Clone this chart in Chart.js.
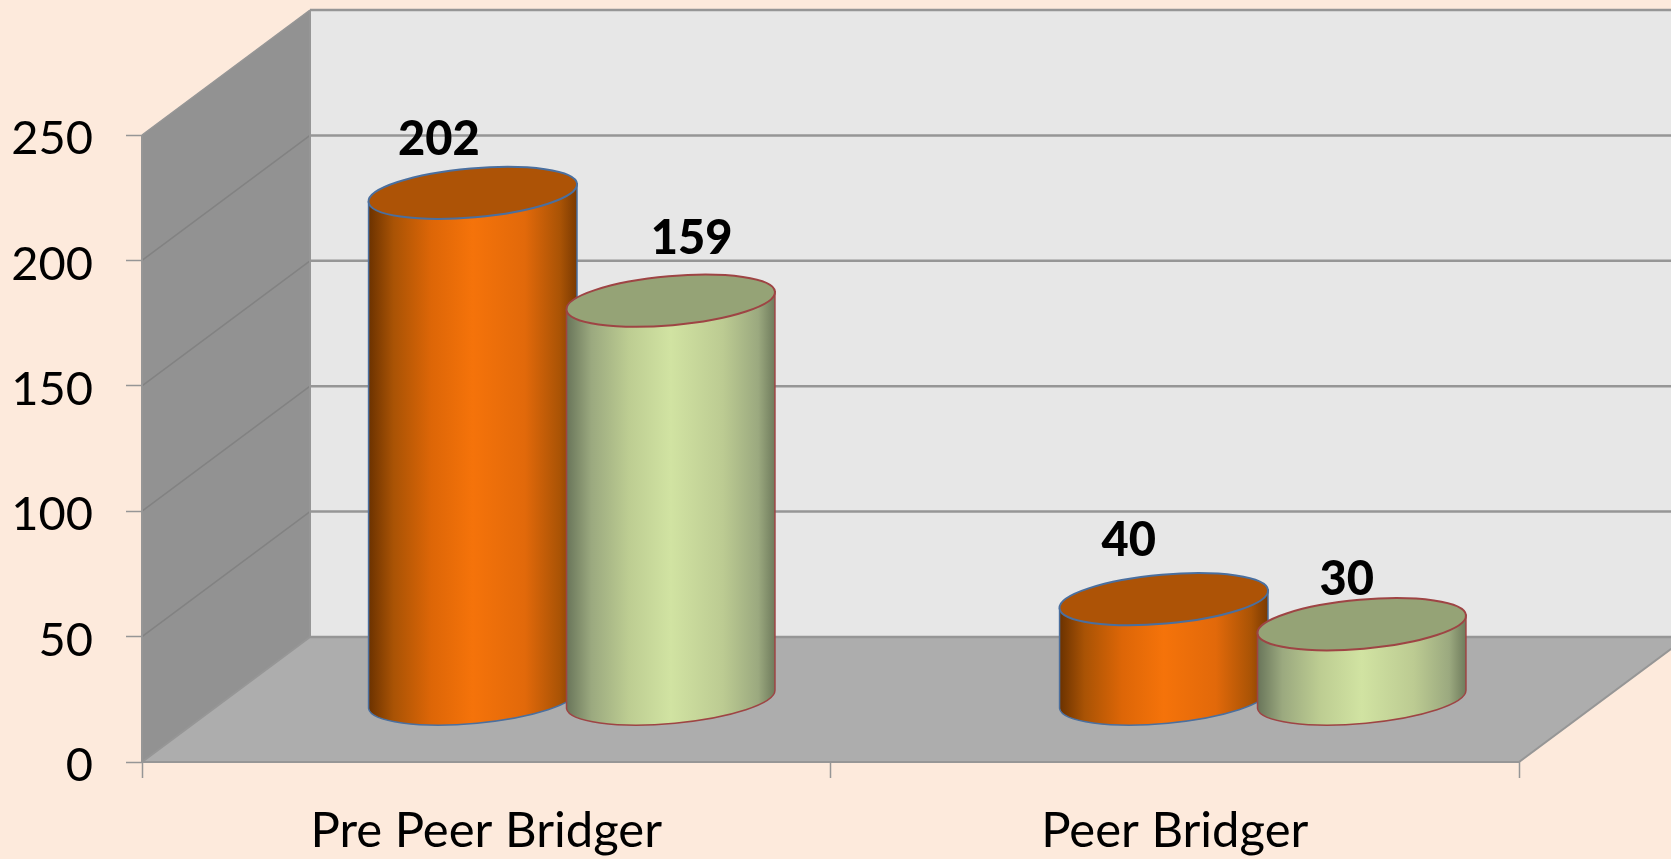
<!DOCTYPE html>
<html><head><meta charset="utf-8">
<style>html,body{margin:0;padding:0;background:#FDEADC;overflow:hidden}canvas{display:block}</style>
<script src="https://cdn.jsdelivr.net/npm/chart.js@4/dist/chart.umd.js"></script>
</head><body><canvas id="c" width="1671" height="859"></canvas>
<script>
const categories = ['Pre Peer Bridger', 'Peer Bridger'];
const seriesA = [202, 40];
const seriesB = [159, 30];
const yTicks = [0, 50, 100, 150, 200, 250];

const DEPTH = {dx: 168, dy: -125};
const GROUP_SHIFT = [1.5, 4];
const GRID = '#969696';
const LABEL_OFFSETS = [[[-34,-53],[-35,-58]],[[21,-62],[-15,-44]]];
const LOOKS = [
  {top:'#AD5306', edge:'#4A6F9F', stops:[[0,'#6B3200'],[.12,'#A95305'],[.3,'#DD6607'],[.5,'#F5730A'],[.75,'#E2690A'],[.92,'#A95305'],[1,'#7A3A02']]},
  {top:'#95A376', edge:'#9E4444', stops:[[0,'#69755A'],[.12,'#9BA97F'],[.3,'#BDCD92'],[.5,'#D1E3A2'],[.75,'#BCCB92'],[.92,'#9BA97F'],[1,'#6F7B5C']]}
];

const scene = {
  id: 'scene',
  beforeDraw(chart) {
    const {ctx, scales:{x, y}, width, height} = chart;
    const L = x.left, R = x.right, B = y.getPixelForValue(0), T = y.getPixelForValue(250);
    const {dx, dy} = DEPTH;
    const poly = (pts, fill) => {
      ctx.beginPath(); pts.forEach((p,i)=> i?ctx.lineTo(p[0],p[1]):ctx.moveTo(p[0],p[1])); ctx.closePath();
      ctx.fillStyle = fill; ctx.fill();
    };
    ctx.save();
    ctx.fillStyle = '#FDEADC'; ctx.fillRect(0,0,width,height);
    poly([[L+dx,T+dy],[R+dx,T+dy],[R+dx,B+dy],[L+dx,B+dy]], '#E7E7E7');
    poly([[L,T],[L+dx,T+dy],[L+dx,B+dy],[L,B]], '#929292');
    poly([[L,B],[L+dx,B+dy],[R+dx,B+dy],[R,B]], '#ADADAD');
    yTicks.forEach(v => {
      const py = y.getPixelForValue(v);
      ctx.strokeStyle = (v===0 || v===250) ? GRID : '#828282'; ctx.lineWidth = v===0 ? 2 : 1.5;
      ctx.beginPath(); ctx.moveTo(L,py); ctx.lineTo(L+dx,py+dy); ctx.stroke();
      ctx.strokeStyle = GRID; ctx.lineWidth = 2.5;
      ctx.beginPath(); ctx.moveTo(L+dx,py+dy); ctx.lineTo(R+dx,py+dy); ctx.stroke();
    });
    ctx.strokeStyle = GRID; ctx.lineWidth = 2;
    ctx.beginPath(); ctx.moveTo(L,T); ctx.lineTo(L,B); ctx.lineTo(R,B); ctx.lineTo(R+dx,B+dy); ctx.stroke();
    ctx.beginPath(); ctx.moveTo(L+dx,T+dy); ctx.lineTo(L+dx,B+dy); ctx.stroke();
    ctx.restore();
  },
  beforeDatasetsDraw(chart) {
    const {ctx} = chart;
    const {dx, dy} = DEPTH;
    const ROT = -5 * Math.PI / 180;
    const tip = 9;
    chart.data.datasets.forEach((ds, di) => {
      const look = LOOKS[di];
      chart.getDatasetMeta(di).data.forEach((el, i) => {
        const cx = el.x + dx/2 + GROUP_SHIFT[i], top = el.y + dy/2, bot = el.base + dy/2;
        const a = el.width/2 * 1.004, b = 24.5;
        const sx = cx - el.width/2, ex = cx + el.width/2;
        ctx.save();
        const g = ctx.createLinearGradient(sx,0,ex,0);
        look.stops.forEach(s => g.addColorStop(s[0], s[1]));
        ctx.beginPath();
        ctx.moveTo(sx, top + tip);
        ctx.lineTo(sx, bot + tip);
        ctx.ellipse(cx, bot, a, b, ROT, Math.PI - 0.02, 0.02, true);
        ctx.lineTo(ex, top - tip);
        ctx.closePath();
        ctx.fillStyle = g; ctx.fill();
        ctx.strokeStyle = look.edge; ctx.lineWidth = 1.5; ctx.stroke();
        ctx.beginPath();
        ctx.ellipse(cx, top, a, b, ROT, 0, Math.PI*2);
        ctx.fillStyle = look.top; ctx.fill();
        ctx.lineWidth = 2; ctx.stroke();
        ctx.restore();
      });
    });
    return false;
  },
  afterDraw(chart) {
    const {ctx} = chart;
    const {dx, dy} = DEPTH;
    ctx.save();
    ctx.font = '900 47px Lato';
    ctx.fillStyle = '#000';
    ctx.textAlign = 'center'; ctx.textBaseline = 'middle';
    chart.data.datasets.forEach((ds, di) => {
      chart.getDatasetMeta(di).data.forEach((el, i) => {
        const o = LABEL_OFFSETS[di][i];
        ctx.fillText(String(ds.data[i]), el.x + dx/2 + GROUP_SHIFT[i] + o[0], el.y + dy/2 + o[1]);
      });
    });
    ctx.restore();
  }
};

new Chart(document.getElementById('c'), {
  type: 'bar',
  plugins: [scene],
  data: {
    labels: categories,
    datasets: [
      {label: 'Series 1', data: seriesA, backgroundColor: '#F5730A'},
      {label: 'Series 2', data: seriesB, backgroundColor: '#D1E3A2'}
    ]
  },
  options: {
    responsive: false,
    animation: false,
    layout: {padding: {top: 135, right: 152, bottom: 0, left: 0}},
    plugins: {legend: {display: false}, tooltip: {enabled: false}, title: {display: false}},
    datasets: {bar: {categoryPercentage: 0.575, barPercentage: 1.053}},
    scales: {
      x: {
        grid: {drawOnChartArea: false, color: GRID, tickLength: 16, tickWidth: 1.5, offset: true},
        border: {display: false},
        ticks: {color: '#000', font: {family: 'Lato', size: 49}, padding: 24, maxRotation: 0, autoSkip: false},
        afterFit(s) { s.height = 97; }
      },
      y: {
        min: 0, max: 250,
        afterBuildTicks(s) { s.ticks = yTicks.map(v => ({value: v})); },
        grid: {drawOnChartArea: false, color: GRID, tickLength: 16, tickWidth: 1.5},
        border: {display: false},
        ticks: {color: '#000', font: {family: 'Lato', size: 47}, padding: 33, labelOffset: 4},
        afterFit(s) { s.width = 142; }
      }
    }
  }
});
</script></body></html>
